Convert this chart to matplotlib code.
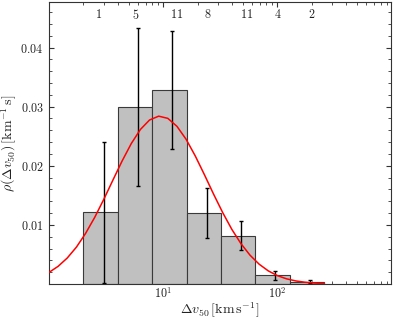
import numpy as np
import matplotlib
matplotlib.use("Agg")
import matplotlib.pyplot as plt
from matplotlib.ticker import FixedLocator, LogLocator, NullFormatter, MultipleLocator
from matplotlib.transforms import blended_transform_factory

plt.rcParams["mathtext.fontset"] = "cm"
plt.rcParams["font.family"] = ["DejaVu Serif"]

# ---- data ----
bin_edges = [2, 4, 8, 16, 32, 64, 128, 256]
density = [0.0121, 0.0299, 0.0328, 0.0120, 0.0082, 0.0015, 0.0004]
counts = [1, 5, 11, 8, 11, 4, 2]
err_x = [3, 6, 12, 24, 48, 96, 192]
err_y = [0.0119, 0.0134, 0.0100, 0.0043, 0.0025, 0.00075, 0.00027]
label_x = [2.7, 5.7, 13.1, 24.3, 53.6, 100, 200]

curve_x = [1.00, 1.202, 1.445, 1.738, 2.089, 2.512, 3.020, 3.631, 4.365, 5.248,
           6.310, 7.586, 9.120, 10.96, 13.18, 15.85, 19.05, 22.91, 27.54, 33.11,
           39.81, 47.86, 57.54, 69.18, 83.18, 100.0, 120.2, 144.5, 173.8, 208.9, 257.0]
curve_y = [0.00196, 0.00299, 0.00440, 0.00624, 0.00855, 0.01127, 0.01434, 0.01760,
           0.02081, 0.02375, 0.02614, 0.02774, 0.02839, 0.02802, 0.02667, 0.02448,
           0.02167, 0.01850, 0.01522, 0.01209, 0.00925, 0.00683, 0.00486, 0.00334,
           0.00221, 0.00141, 0.00087, 0.00052, 0.00030, 0.00016, 0.00008]

y_ticks = [0.01, 0.02, 0.03, 0.04]
y_ticklabels = ["$0.01$", "$0.02$", "$0.03$", "$0.04$"]
x_ticks = [10, 100]
x_ticklabels = ["$10^{1}$", "$10^{2}$"]

fs = 8.7
fs_lab = 10
fig = plt.figure(figsize=(3.94, 3.19), dpi=100)
ax = fig.add_axes([49 / 394, 1 - 284 / 319, (391 - 49) / 394, (284 - 2) / 319])

edges = np.array(bin_edges, dtype=float)
ax.bar(edges[:-1], density, width=np.diff(edges), align="edge",
       color="#c0c0c0", edgecolor="#3a3a3a", linewidth=0.8, zorder=2)
ax.errorbar(err_x, density, yerr=err_y, fmt="none", ecolor="black",
            elinewidth=1.0, capsize=1.5, capthick=1.0, zorder=3)
ax.plot(curve_x, curve_y, color="red", lw=1.1, zorder=4)

trans = blended_transform_factory(ax.transData, ax.transAxes)
for xv, c in zip(label_x, counts):
    ax.text(xv, 0.954, f"${c}$", transform=trans, ha="center", va="center",
            fontsize=fs, color="#222222")

ax.set_xscale("log")
ax.set_xlim(1.0, 985)
ax.set_ylim(0, 0.0477)

ax.yaxis.set_major_locator(FixedLocator(y_ticks))
ax.set_yticklabels(y_ticklabels)
ax.yaxis.set_minor_locator(MultipleLocator(0.002))
ax.xaxis.set_major_locator(FixedLocator(x_ticks))
ax.set_xticklabels(x_ticklabels)
ax.xaxis.set_minor_locator(LogLocator(base=10, subs=np.arange(2, 10)))
ax.xaxis.set_minor_formatter(NullFormatter())

ax.tick_params(which="both", direction="in", top=True, right=True,
               labelsize=fs, colors="#333333", labelcolor="#222222")
ax.tick_params(which="major", length=3.6, width=0.8)
ax.tick_params(axis="y", which="major", pad=4)
ax.tick_params(axis="x", which="major", pad=1.5)
ax.tick_params(which="minor", length=2.2, width=0.6)
for s in ax.spines.values():
    s.set_color("#333333")
    s.set_linewidth(0.8)

ax.set_xlabel(r"$\Delta v_{50}\,[\mathrm{km\,s^{-1}}]$", fontsize=fs_lab, color="#222222")
ax.set_ylabel(r"$\rho(\Delta v_{50})\,[\mathrm{km^{-1}\,s}]$", fontsize=fs_lab, color="#222222")
ax.xaxis.set_label_coords(0.5, -0.095)
ax.xaxis.label.set_va("center")
ax.yaxis.set_label_coords(-0.115, 0.5)
ax.yaxis.label.set_va("center")

fig.savefig("out.png", dpi=100)
